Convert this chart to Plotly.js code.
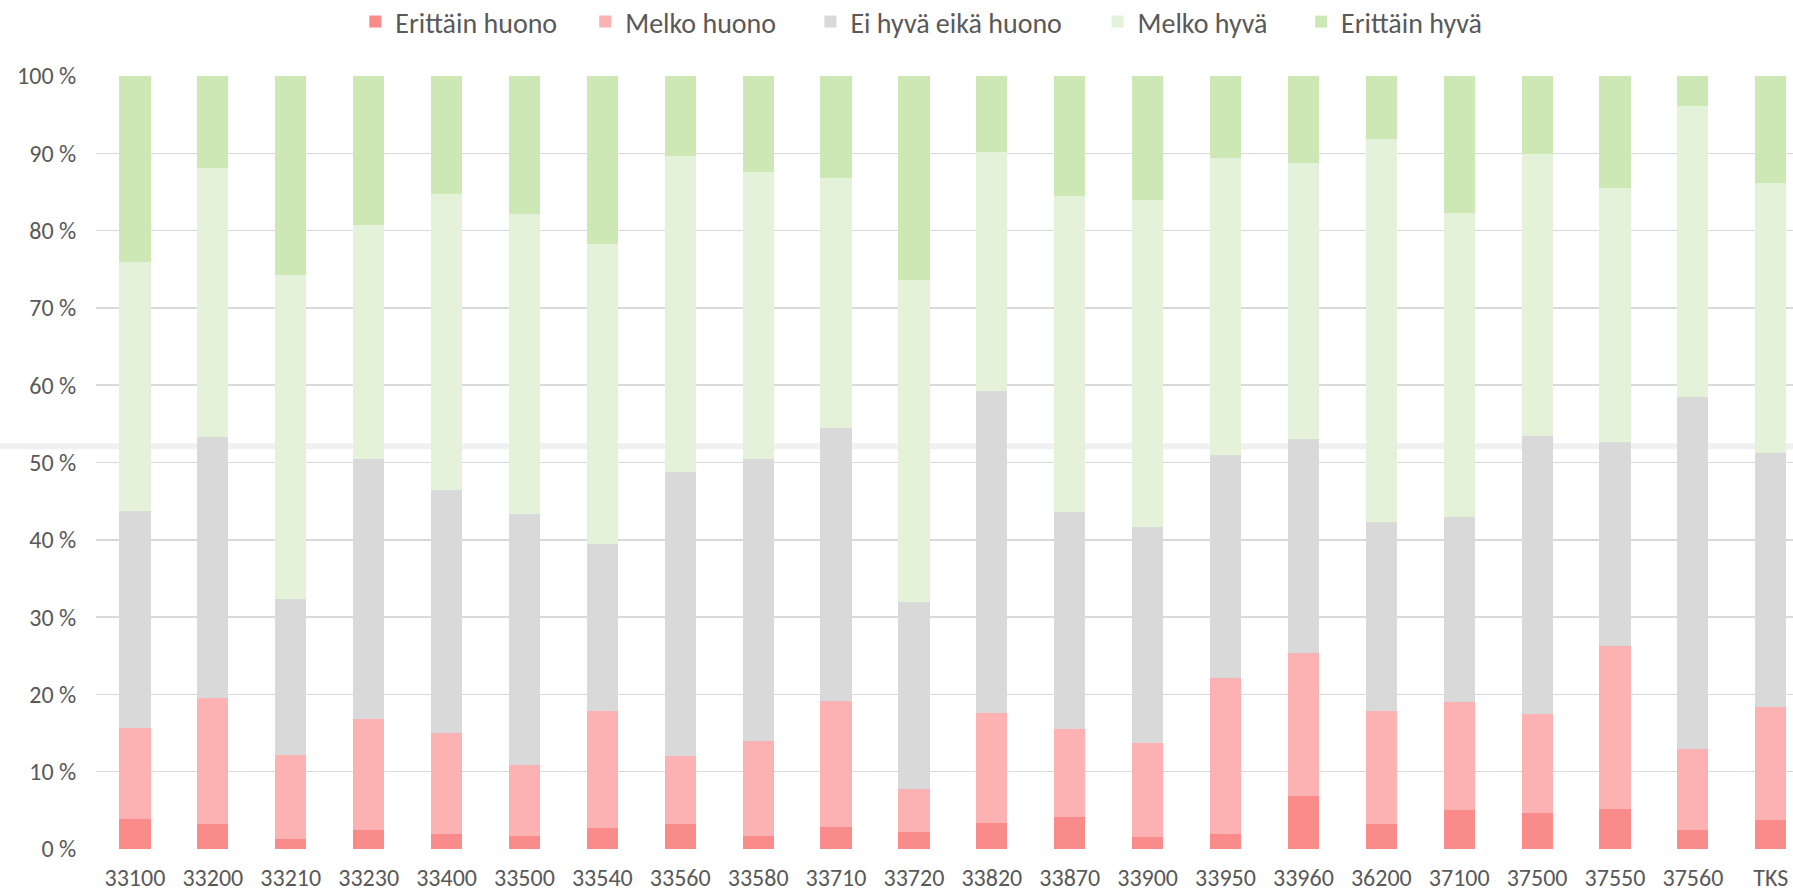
<!DOCTYPE html>
<html>
<head>
<meta charset="utf-8">
<script src="https://cdn.plot.ly/plotly-3.0.1.min.js"></script>
<style>
  html, body { margin: 0; padding: 0; background: #fff; }
  #chart { width: 1793px; height: 892px; }
</style>
</head>
<body>
<div id="chart"></div>
<script>
// postal code areas + whole sample (TKS)
var categories = ['33100', '33200', '33210', '33230', '33400', '33500', '33540', '33560', '33580', '33710', '33720',
  '33820', '33870', '33900', '33950', '33960', '36200', '37100', '37500', '37550', '37560', 'TKS'];

// shares in %
var erittainHuono = [3.9, 3.2, 1.3, 2.5, 2.0, 1.7, 2.7, 3.2, 1.7, 2.9, 2.2, 3.4, 4.2, 1.6, 1.9, 6.8, 3.2, 5.0, 4.7, 5.2, 2.5, 3.8];
var melkoHuono    = [11.8, 16.3, 10.8, 14.3, 13.0, 9.2, 15.2, 8.8, 12.3, 16.2, 5.6, 14.2, 11.3, 12.1, 20.2, 18.6, 14.7, 14.0, 12.8, 21.0, 10.4, 14.6];
var eiHyvaEikaHuono = [28.0, 33.8, 20.3, 33.7, 31.4, 32.4, 21.6, 36.8, 36.5, 35.4, 24.1, 41.7, 28.1, 28.0, 28.9, 27.7, 24.4, 24.0, 35.9, 26.4, 45.6, 32.8];
var melkoHyva     = [32.3, 34.8, 41.9, 30.2, 38.4, 38.8, 38.8, 40.8, 37.1, 32.3, 41.7, 30.9, 40.9, 42.3, 38.4, 35.6, 49.6, 39.3, 36.5, 32.9, 37.6, 35.0];
var erittainHyva  = [24.0, 11.9, 25.7, 19.3, 15.2, 17.9, 21.7, 10.4, 12.4, 13.2, 26.4, 9.8, 15.5, 16.0, 10.6, 11.3, 8.1, 17.7, 10.1, 14.5, 3.9, 13.8];

var seriesNames = ['Erittäin huono', 'Melko huono', 'Ei hyvä eikä huono', 'Melko hyvä', 'Erittäin hyvä'];
var seriesValues = [erittainHuono, melkoHuono, eiHyvaEikaHuono, melkoHyva, erittainHyva];
var seriesColors = ['#f98b8b', '#fcb2b2', '#d9d9d9', '#e3f2d9', '#cde8b5'];
// one small legend per series so the entries can sit where Excel put them
var legendX = [0.1528, 0.2883, 0.4210, 0.5902, 0.7101];

var txt = {family: "Carlito, Calibri, 'Liberation Sans', Arial, sans-serif", color: '#595959'};

var data = seriesNames.map(function (name, i) {
  return {
    type: 'bar',
    name: name,
    x: categories,
    y: seriesValues[i],
    legend: i === 0 ? 'legend' : 'legend' + (i + 1),
    marker: {color: seriesColors[i], line: {width: 0}},
    hoverinfo: 'x+y+name'
  };
});

var layout = {
  width: 1793,
  height: 892,
  margin: {l: 96, r: 0, t: 76, b: 43, autoexpand: false},
  paper_bgcolor: '#fff',
  plot_bgcolor: '#fff',
  barmode: 'stack',
  bargap: 0.6,
  showlegend: true,
  xaxis: {
    type: 'category',
    range: [-0.5, 21.285],
    showgrid: false,
    showline: false,
    zeroline: false,
    ticks: 'outside',
    ticklen: 7,
    tickcolor: 'rgba(0,0,0,0)',
    tickfont: {family: txt.family, color: txt.color, size: 24}
  },
  yaxis: {
    range: [0, 100],
    dtick: 10,
    ticksuffix: ' %',
    showgrid: true,
    gridcolor: '#d9d9d9',
    gridwidth: 1.5,
    zeroline: false,
    showline: false,
    ticks: 'outside',
    ticklen: 14,
    tickcolor: 'rgba(0,0,0,0)',
    tickfont: {family: txt.family, color: txt.color, size: 24}
  },
  shapes: [{
    type: 'rect', layer: 'below',
    xref: 'paper', yref: 'y',
    x0: -0.06, x1: 1,
    y0: 51.7, y1: 52.5,
    fillcolor: '#f0f0f0',
    line: {width: 0}
  }]
};

legendX.forEach(function (lx, i) {
  layout[i === 0 ? 'legend' : 'legend' + (i + 1)] = {
    orientation: 'h',
    x: lx, xanchor: 'left',
    y: 1.07, yanchor: 'middle',
    bgcolor: 'rgba(0,0,0,0)',
    font: {family: txt.family, color: txt.color, size: 28},
    itemclick: false
  };
});

Plotly.newPlot('chart', data, layout, {displayModeBar: false, staticPlot: true});
</script>
</body>
</html>
